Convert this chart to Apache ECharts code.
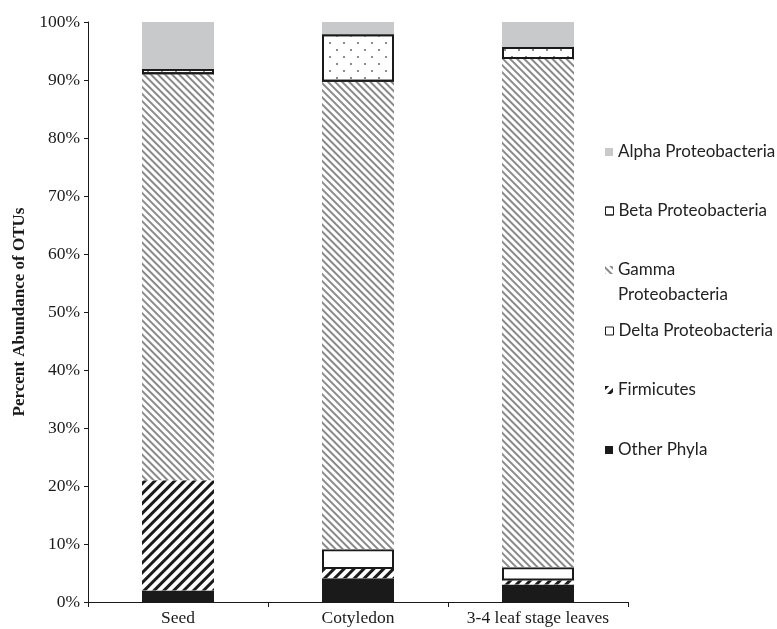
<!DOCTYPE html>
<html>
<head>
<meta charset="utf-8">
<script src="https://cdn.jsdelivr.net/npm/echarts@6/dist/echarts.min.js"></script>
<style>
html,body{margin:0;padding:0;background:#fff;}
#main{width:777px;height:629px;}
</style>
</head>
<body>
<div id="main"></div>
<script>
// ---- data (percent abundance, stacked bottom -> top) ----
const categories = ['Seed', 'Cotyledon', '3-4 leaf stage leaves'];
const otherPhyla = [2.0, 4.1, 3.0];
const firmicutes = [19.0, 1.6, 0.7];
const deltaProteobacteria = [0, 3.4, 2.3];
const gammaProteobacteria = [70.0, 80.6, 87.6];
const betaProteobacteria = [0.9, 8.2, 2.1];
const alphaProteobacteria = [8.1, 2.1, 4.3];
const yAxisTitle = 'Percent Abundance of OTUs';

const serif = '"Liberation Serif", "Times New Roman", serif';
const sans = 'Lato, "Open Sans", sans-serif';
const clean = arr => arr.map(v => (v === 0 ? '-' : v));

const gammaDecal = {symbol: 'rect', symbolSize: 1, dashArrayX: [[1, 0]], dashArrayY: [2, 3], rotation: Math.PI / 4, color: '#8a8a8a'};
const firmDecal = {symbol: 'rect', symbolSize: 1, dashArrayX: [[1, 0]], dashArrayY: [3, 4], rotation: -Math.PI / 4, color: '#1a1a1a'};
const betaDecal = {symbol: 'rect', symbolSize: 1, dashArrayX: [[2, 12], [0, 7, 2, 5]], dashArrayY: [2, 5], rotation: 0, color: '#8c8c8c'};

const series = [
  {name: 'Other Phyla', data: clean(otherPhyla), itemStyle: {color: '#1a1a1a'}},
  {name: 'Firmicutes', data: clean(firmicutes), itemStyle: {color: '#ffffff', decal: firmDecal}},
  {name: 'Delta Proteobacteria', data: clean(deltaProteobacteria), itemStyle: {color: '#ffffff', borderColor: '#1a1a1a', borderWidth: 2}},
  {name: 'Gamma Proteobacteria', data: clean(gammaProteobacteria), itemStyle: {color: '#ffffff', decal: gammaDecal}},
  {name: 'Beta Proteobacteria', data: clean(betaProteobacteria), itemStyle: {color: '#ffffff', borderColor: '#1a1a1a', borderWidth: 2, decal: betaDecal}},
  {name: 'Alpha Proteobacteria', data: clean(alphaProteobacteria), itemStyle: {color: '#c8c9cb'}}
].map(s => Object.assign({type: 'bar', stack: 'total', barWidth: '40%', animation: false, emphasis: {disabled: true}}, s));

const legendCenters = [
  ['Alpha Proteobacteria', 152],
  ['Beta Proteobacteria', 211],
  ['Gamma Proteobacteria', 270],
  ['Delta Proteobacteria', 331],
  ['Firmicutes', 390],
  ['Other Phyla', 450]
];
const legends = legendCenters.map(([name, cy]) => {
  const isGamma = name === 'Gamma Proteobacteria';
  const bordered = name === 'Beta Proteobacteria' || name === 'Delta Proteobacteria';
  return {
    data: [name],
    orient: 'vertical',
    left: 605,
    top: isGamma ? cy - 13 : cy - 10,
    padding: 0,
    itemWidth: 8,
    itemHeight: isGamma ? 32 : 8,
    itemGap: 5,
    icon: isGamma ? 'path://M0,0h8v8h-8z M0,31.95h0.05v0.05h-0.05z' : 'rect',
    symbolKeepAspect: false,
    selectedMode: false,
    itemStyle: bordered ? {borderWidth: 1, borderColor: '#1a1a1a'} : {borderWidth: 0},
    formatter: isGamma ? 'Gamma\nProteobacteria' : '{name}',
    textStyle: isGamma
      ? {fontFamily: sans, fontSize: 17, color: '#222', lineHeight: 25}
      : {fontFamily: sans, fontSize: 17, color: '#222', lineHeight: 20}
  };
});

const chart = echarts.init(document.getElementById('main'), null, {renderer: 'canvas'});
chart.setOption({
  animation: false,
  backgroundColor: '#ffffff',
  grid: {left: 88, right: 149, top: 22, bottom: 27, containLabel: false},
  legend: legends,
  xAxis: {
    type: 'category',
    data: categories,
    boundaryGap: true,
    axisLine: {lineStyle: {color: '#1a1a1a', width: 1}},
    axisTick: {show: true, alignWithLabel: false, length: 5, lineStyle: {color: '#1a1a1a'}},
    axisLabel: {fontFamily: serif, fontSize: 17.5, color: '#1a1a1a', margin: 7, interval: 0}
  },
  yAxis: {
    type: 'value',
    min: 0,
    max: 100,
    interval: 10,
    name: yAxisTitle,
    nameLocation: 'middle',
    nameGap: 57,
    nameTextStyle: {fontFamily: serif, fontSize: 17, fontWeight: 'bold', color: '#1a1a1a'},
    axisLine: {show: true, lineStyle: {color: '#1a1a1a', width: 1}},
    axisTick: {show: true, length: 4, lineStyle: {color: '#1a1a1a'}},
    splitLine: {show: false},
    axisLabel: {fontFamily: serif, fontSize: 17.5, color: '#1a1a1a', margin: 8, formatter: '{value}%'}
  },
  series: series
});
</script>
</body>
</html>
